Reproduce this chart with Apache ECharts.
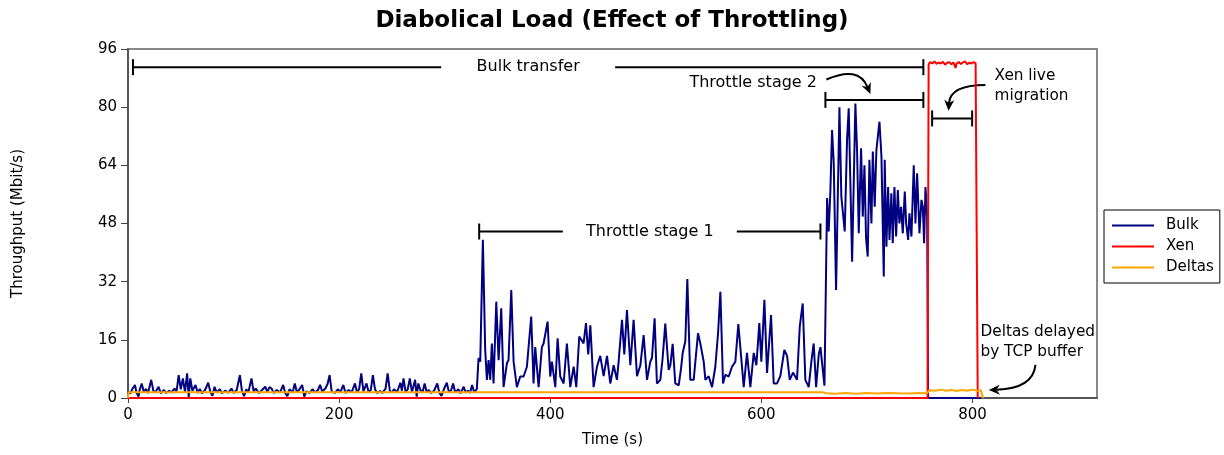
<!DOCTYPE html>
<html>
<head>
<meta charset="utf-8">
<script src="https://cdn.jsdelivr.net/npm/echarts@6/dist/echarts.min.js"></script>
<style>
  html, body { margin: 0; padding: 0; background: #fff; }
  #chart { width: 1224px; height: 455px; }
</style>
</head>
<body>
<div id="chart"></div>
<script>
// Bulk throughput [time s, Mbit/s]
const bulkQuiet = [
  [0, 1.8], [2, 1.2], [4, 2.4], [6.6, 3.6], [8, 1.5], [10, 0.4], [11, 2.2], [13, 4.0], [15, 1.6], [17, 2.5],
  [19, 1.4], [22, 5.0], [24, 2.0], [26, 1.6], [29, 3.1], [31, 1.3], [34, 2.2], [36, 1.4], [39, 2.0], [41, 1.5],
  [44, 2.6], [46, 1.8], [48, 6.3], [50, 2.4], [52, 5.4], [54, 1.6], [56, 6.8], [57.5, 0.3], [59, 5.4], [61, 2.0],
  [64, 3.6], [66, 1.4], [68, 2.5], [70, 1.3], [73, 2.2], [76, 4.2], [78, 1.7], [80, 0.6], [82, 3.1], [84, 1.5],
  [87, 2.4], [89, 1.3], [92, 2.0], [95, 1.5], [98, 2.6], [100, 1.4], [103, 2.2], [106, 6.3], [108, 1.8], [110, 0.5],
  [112, 2.4], [114, 1.5], [117, 5.4], [119, 1.8], [121, 2.6], [124, 1.4], [127, 2.2], [130, 3.1], [132, 1.6], [134, 3.0],
  [136, 2.6], [138, 1.4], [141, 2.2], [144, 1.5], [147, 3.6], [149, 1.3], [151, 0.5], [153, 2.4], [156, 1.5], [158, 4.0],
  [160, 1.6], [162, 2.2], [165, 3.6], [167, 0.4], [169, 1.8], [172, 1.4], [175, 2.4], [177, 1.5], [180, 2.2], [182, 3.6],
  [184, 1.8], [187, 2.6], [189, 3.8], [191, 6.3], [193, 1.7], [196, 1.4], [199, 2.4], [201, 1.5], [204, 3.6], [206, 1.4],
  [209, 2.2], [212, 1.6], [215, 4.0], [217, 1.5], [219, 2.5], [221, 6.8], [223, 1.8], [226, 4.0], [228, 1.5], [230, 2.2],
  [232, 6.3], [234, 2.4], [236, 1.4], [239, 1.9], [241, 1.4], [244, 2.6], [246, 6.8], [248, 2.0], [250, 1.5], [252, 2.4],
  [255, 1.6], [258, 4.2], [259.5, 2.0], [261, 5.4], [263, 1.7], [265, 2.4], [267, 5.4], [269, 1.6], [272, 5.0], [273.5, 0.4],
  [275, 4.0], [277, 2.2], [279, 1.5], [281, 4.0], [283, 1.6], [285, 2.2], [287, 1.4], [290, 2.0], [293, 4.0], [295, 1.4],
  [297, 0.6], [299, 2.2], [302, 4.2], [304, 1.7], [306, 2.0], [308, 4.0], [310, 1.5], [313, 2.4], [315, 1.3], [318, 3.1],
  [320, 1.5], [322, 2.0], [324, 1.4], [326, 3.6], [328, 1.5], [330.5, 2.5]
];
const bulkStage1 = [
  [332.1, 11], [333.7, 10], [336.2, 43.5], [338.4, 13.2], [340, 5], [341.6, 10.4], [343.2, 5], [344.7, 15], [346.3, 4], [348.9, 26.5],
  [351.1, 10.4], [353.6, 24.7], [355.8, 3], [359, 9.6], [360.5, 10.4], [363.1, 29.7], [365.3, 10], [368.4, 3], [371.6, 5.9], [374.8, 5.9],
  [377.9, 8.6], [379.5, 14], [382, 22.4], [384.2, 4], [385.8, 14], [389, 3], [392.1, 14], [393.7, 15], [397.5, 21], [400, 5.9],
  [401.6, 10], [404.8, 3], [407, 16.4], [409.5, 5.9], [412.7, 4], [415.8, 15], [419, 3], [422.2, 8.6], [424.7, 3], [427.5, 16.9],
  [431.6, 15], [433.9, 20.6], [436, 12], [438, 20], [441.1, 3], [444.3, 8.6], [447.4, 11.6], [450.6, 6], [453.8, 11.6], [456.9, 4],
  [460.1, 9], [463.2, 5], [464.8, 10], [468, 21.5], [470.2, 12], [472.7, 24.2], [475.9, 9], [479, 21.5], [482.2, 6], [485.4, 9],
  [488.5, 17.3], [491.7, 5], [494.8, 10], [496.4, 11], [498.9, 21.9], [501.1, 4], [504.3, 5], [506.5, 11], [509, 20.5], [512.2, 7.7],
  [513.8, 9], [516, 14.9], [518.5, 4], [521.7, 3.5], [523.9, 8], [525.5, 12.4], [528, 15.6], [529.9, 32.7], [532.7, 5], [535.9, 5],
  [537.5, 10], [540, 17.8], [542.2, 15], [545.4, 10], [547, 5], [550.1, 6], [553.3, 3], [556.4, 8.6], [559, 17.8], [561.2, 29.2],
  [563.7, 4], [565.9, 6.4], [569.1, 5.9], [572.2, 8.6], [575.4, 10], [578.2, 20.3], [580.8, 11.6], [583.3, 3], [586.4, 12.4], [589.6, 3],
  [592.8, 12.4], [595.3, 9], [598.1, 20.6], [600, 10], [602.9, 27], [605.4, 6.9], [609.2, 22.8], [611.7, 4], [614.9, 4], [618, 6],
  [621.8, 13.2], [624.4, 11.6], [626.9, 5], [630, 7], [633.8, 5], [636.4, 19.6], [639.2, 26], [641.7, 5], [644.9, 3], [647.4, 10],
  [649.6, 15], [651.9, 3], [654.4, 12], [656, 14], [657.5, 14.5], [659.8, 3.4]
];
const bulkStage2 = [
  [662.3, 55], [663.8, 45.8], [665.4, 56.8], [667, 73.7], [668.6, 64.6], [670.8, 29.7], [674, 80], [675.8, 55.4], [679, 45.8], [681.2, 71],
  [682.8, 79.7], [686, 37.5], [689.1, 81], [690.7, 68], [692.3, 45.3], [694.5, 68.7], [696.1, 49.9], [697.7, 64], [699.2, 44], [700.8, 38.9],
  [702.4, 65.5], [704.3, 48], [705.6, 67.8], [707.4, 52.6], [709, 68.2], [711.9, 76], [713.8, 66.4], [716, 33.4], [716.9, 65.5], [718.5, 41.6],
  [720.1, 58], [721.4, 43.5], [723.2, 56.3], [724.5, 42.6], [726.1, 58], [727.7, 44.4], [729.3, 57.2], [730.8, 48], [732.4, 52.6], [734, 45.3],
  [735.9, 56.8], [737.2, 48], [739.1, 43.5], [740.3, 50.8], [742.2, 44.4], [744.4, 64], [746, 48], [747.6, 61.8], [749.8, 45.3], [751.7, 54.5],
  [753, 52.6], [754.2, 42.6], [755.5, 58], [757.1, 50]
];
const bulkAfter = [[758, 0], [808, 0]];

const xenRate = [
  [0, 0], [757.5, 0], [758.5, 91.8], [760, 92.4], [762, 92.0], [764, 92.6], [766, 91.9], [768, 92.3], [770, 92.0], [772, 92.5],
  [774, 91.7], [776, 92.2], [778, 92.4], [780, 91.8], [782, 92.3], [784, 90.8], [785, 92.0], [787, 92.4], [789, 91.9], [791, 92.3],
  [793, 92.6], [795, 91.8], [797, 92.2], [799, 92.0], [801, 92.4], [803, 92.1], [804.5, 92.0], [805, 0]
];

const deltasRate = [
  [0, 0], [0.5, 1.55], [120, 1.6], [250, 1.55], [400, 1.6], [520, 1.55], [658, 1.6], [662, 1.3], [670, 1.2], [680, 1.4],
  [690, 1.2], [700, 1.35], [710, 1.25], [720, 1.4], [730, 1.3], [740, 1.25], [750, 1.35], [757, 1.3], [759, 2.1], [765, 2.0],
  [770, 2.3], [775, 2.0], [780, 2.2], [785, 1.9], [790, 2.2], [795, 2.0], [800, 2.3], [805, 2.0], [808, 2.1], [810, 0]
];

// annotation brackets (data units)
const bracketStart = [4.7, 332.7, 660.7, 761.8];
const bracketEnd = [753.5, 656, 753.5, 799.7];
const bracketLevel = [91, 45.8, 82, 76.9];
const bracketLabel = ['Bulk transfer', 'Throttle stage 1', '', ''];

// free text notes
const noteText = ['Throttle stage 2', 'Xen live\nmigration', 'Deltas delayed\nby TCP buffer'];
const noteX = [652.7, 821, 807.6];
const noteY = [86.8, 85.8, 15.4];
const noteAlign = ['right', 'left', 'left'];
const noteSize = [16, 15.3, 15.3];

// curved arrows: start, control, tip
const arrowStart = [[661.6, 87.6], [812.3, 86.1], [859.7, 9.1]];
const arrowCtrl = [[692, 91.5], [779, 86.1], [857.5, 2.6]];
const arrowTip = [[703.3, 83.6], [777.3, 79.0], [815.5, 2.2]];

const xTicks = [0, 200, 400, 600, 800];

const FONT = 'DejaVu Sans';
const chart = echarts.init(document.getElementById('chart'));

function renderBracket(params, api) {
  const a = api.coord([api.value(0), api.value(2)]);
  const b = api.coord([api.value(1), api.value(2)]);
  const label = bracketLabel[api.value(3)];
  const style = { stroke: '#000', lineWidth: 2 };
  const cap = 8;
  const children = [
    { type: 'line', shape: { x1: a[0], y1: a[1] - cap, x2: a[0], y2: a[1] + cap }, style },
    { type: 'line', shape: { x1: b[0], y1: b[1] - cap, x2: b[0], y2: b[1] + cap }, style }
  ];
  if (label) {
    const mid = (a[0] + b[0]) / 2;
    const gap = 87;
    children.push(
      { type: 'line', shape: { x1: a[0], y1: a[1], x2: mid - gap, y2: a[1] }, style },
      { type: 'line', shape: { x1: mid + gap, y1: a[1], x2: b[0], y2: a[1] }, style },
      { type: 'text', x: mid, y: a[1], style: { text: label, fontFamily: FONT, fontSize: 16, fill: '#000', align: 'center', verticalAlign: 'middle' } }
    );
  } else {
    children.push({ type: 'line', shape: { x1: a[0], y1: a[1], x2: b[0], y2: b[1] }, style });
  }
  return { type: 'group', children };
}

function renderNote(params, api) {
  const p = api.coord([api.value(0), api.value(1)]);
  const i = api.value(2);
  return {
    type: 'text', x: p[0], y: p[1],
    style: { text: noteText[i], fontFamily: FONT, fontSize: noteSize[i], lineHeight: 20, fill: '#000', align: noteAlign[i], verticalAlign: 'middle' }
  };
}

function renderArrow(params, api) {
  const i = params.dataIndex;
  const s = api.coord(arrowStart[i]);
  const c = api.coord(arrowCtrl[i]);
  const t = api.coord(arrowTip[i]);
  let dx = t[0] - c[0], dy = t[1] - c[1];
  const len = Math.hypot(dx, dy) || 1;
  dx /= len; dy /= len;
  const nx = -dy, ny = dx;
  const hl = 11, hw = 5;
  const bx = t[0] - dx * hl, by = t[1] - dy * hl;
  const notchX = t[0] - dx * hl * 0.7, notchY = t[1] - dy * hl * 0.7;
  return {
    type: 'group',
    children: [
      { type: 'bezierCurve', shape: { x1: s[0], y1: s[1], cpx1: c[0], cpy1: c[1], x2: notchX, y2: notchY }, style: { stroke: '#000', lineWidth: 2, fill: null } },
      { type: 'polygon', shape: { points: [[t[0], t[1]], [bx + nx * hw, by + ny * hw], [notchX, notchY], [bx - nx * hw, by - ny * hw]] }, style: { fill: '#000' } }
    ]
  };
}

const option = {
  animation: false,
  backgroundColor: '#fff',
  textStyle: { fontFamily: FONT },
  title: {
    text: 'Diabolical Load (Effect of Throttling)',
    left: 'center',
    top: 5,
    textStyle: { fontFamily: FONT, fontSize: 23, fontWeight: 'bold', color: '#000' }
  },
  legend: {
    data: ['Bulk', 'Xen', 'Deltas'],
    orient: 'vertical',
    left: 1104,
    top: 210,
    padding: [8, 6, 8, 8],
    itemGap: 6,
    itemWidth: 42,
    itemHeight: 2,
    icon: 'rect',
    borderColor: '#000',
    borderWidth: 1,
    textStyle: { fontFamily: FONT, fontSize: 15, color: '#000', padding: [0, 0, 0, 7] }
  },
  grid: {
    left: 128, right: 127, top: 49, bottom: 57,
    show: true, borderColor: '#888', borderWidth: 2, backgroundColor: 'transparent'
  },
  xAxis: {
    type: 'value',
    min: 0, max: 918, interval: 200,
    name: 'Time (s)', nameLocation: 'middle', nameGap: 35,
    nameTextStyle: { fontFamily: FONT, fontSize: 15, color: '#000' },
    axisLine: { lineStyle: { color: '#444', width: 1.5 } },
    axisTick: { length: 5, lineStyle: { color: '#444' }, customValues: xTicks },
    axisLabel: { fontFamily: FONT, fontSize: 15, color: '#000', margin: 10, customValues: xTicks },
    splitLine: { show: false }
  },
  yAxis: {
    type: 'value',
    min: 0, max: 96, interval: 16,
    name: 'Throughput (Mbit/s)', nameLocation: 'middle', nameGap: 102,
    nameTextStyle: { fontFamily: FONT, fontSize: 15, color: '#000' },
    axisLine: { show: true, lineStyle: { color: '#444', width: 1.5 } },
    axisTick: { show: true, length: 7, lineStyle: { color: '#444' } },
    axisLabel: { fontFamily: FONT, fontSize: 15, color: '#000', margin: 11 },
    splitLine: { show: false }
  },
  series: [
    {
      name: 'Bulk', type: 'line', showSymbol: false, color: '#000080',
      lineStyle: { width: 2, color: '#000080' },
      data: [].concat(bulkQuiet, bulkStage1, bulkStage2, bulkAfter)
    },
    {
      name: 'Xen', type: 'line', showSymbol: false, color: '#ff0000',
      lineStyle: { width: 2, color: '#ff0000' },
      data: xenRate
    },
    {
      name: 'Deltas', type: 'line', showSymbol: false, color: '#ffa500',
      lineStyle: { width: 2, color: '#ffa500' },
      data: deltasRate
    },
    {
      type: 'custom', name: 'brackets', silent: true, clip: false,
      renderItem: renderBracket,
      encode: { x: [0, 1], y: 2 },
      data: bracketStart.map((s, i) => [s, bracketEnd[i], bracketLevel[i], i])
    },
    {
      type: 'custom', name: 'notes', silent: true, clip: false,
      renderItem: renderNote,
      encode: { x: 0, y: 1 },
      data: noteX.map((x, i) => [x, noteY[i], i])
    },
    {
      type: 'custom', name: 'arrows', silent: true, clip: false,
      renderItem: renderArrow,
      encode: { x: 0, y: 1 },
      data: arrowTip
    }
  ]
};

chart.setOption(option);
</script>
</body>
</html>
